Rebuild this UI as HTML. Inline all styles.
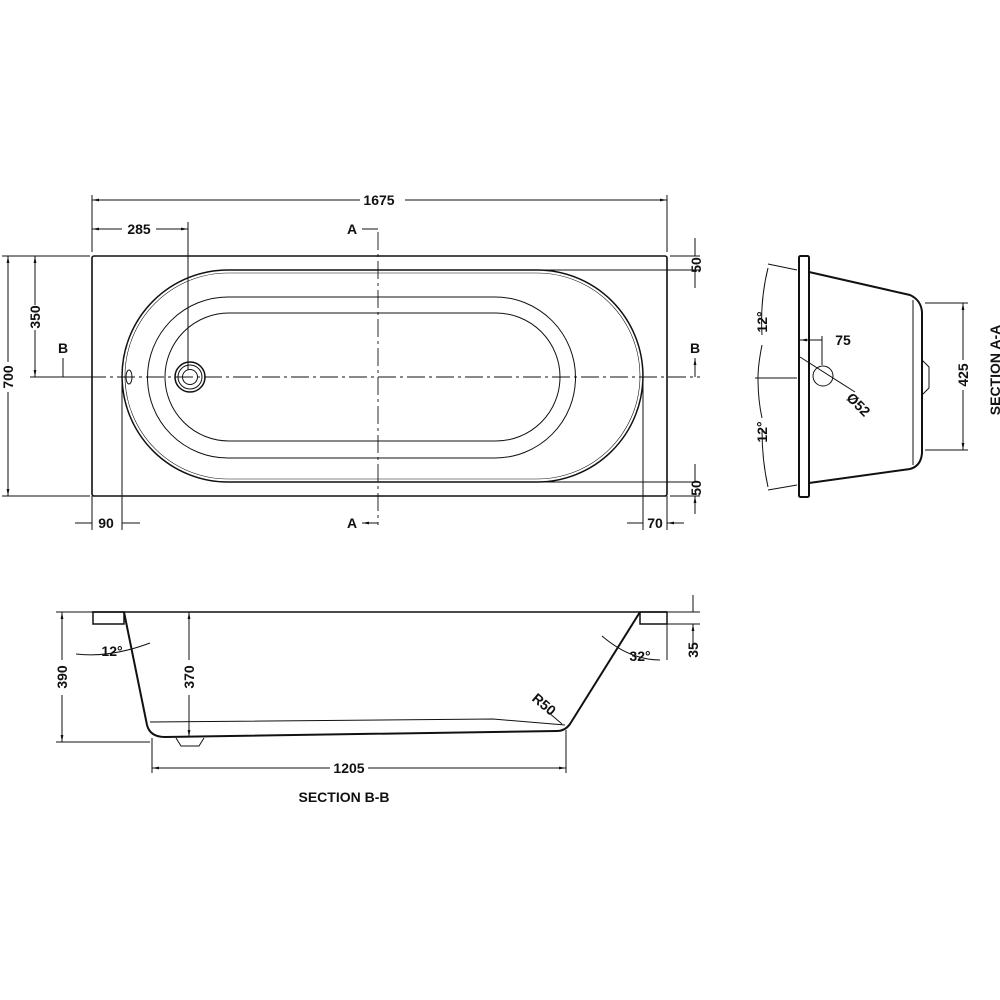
<!DOCTYPE html>
<html><head><style>body{margin:0;background:#fff}svg{display:block}text{font-family:"Liberation Sans",sans-serif;font-weight:bold;font-size:14px;fill:#111}</style></head><body>
<svg width="1000" height="1000" viewBox="0 0 1000 1000" xmlns="http://www.w3.org/2000/svg">
<defs><marker id="a" viewBox="0 0 10 10" refX="10" refY="5" markerWidth="7" markerHeight="7" orient="auto-start-reverse"><path d="M0,3L10,5L0,7z" fill="#111"/></marker></defs>
<g stroke="#111" fill="none" stroke-width="1">
<!-- top view -->
<rect x="92" y="256" width="575" height="240" rx="2" stroke-width="1.6"/>
<path d="M228,270H537A106,106 0 0 1 537,482H228A106,106 0 0 1 228,270Z" stroke-width="1.5"/>
<path d="M228,273H537A103,103 0 0 1 537,479H228A103,103 0 0 1 228,273Z" stroke-width="0.6"/>
<path d="M228,297H495A80.5,80.5 0 0 1 495,458H228A80.5,80.5 0 0 1 228,297Z"/>
<path d="M229,313H496A64,64 0 0 1 496,441H229A64,64 0 0 1 229,313Z"/>
<circle cx="190" cy="377" r="15" stroke-width="1.5"/><circle cx="190" cy="377" r="12"/><circle cx="190" cy="377" r="7.5"/>
<ellipse cx="129" cy="377" rx="3" ry="7"/>
<path d="M30,377H700" stroke-dasharray="18,4,3,4" stroke-width="0.9"/>
<path d="M378,232V525" stroke-dasharray="18,4,3,4" stroke-width="0.9"/>
<path d="M63,377V358M695,377V358" marker-end="url(#a)"/>
<path d="M378,229H362M378,523H362" marker-end="url(#a)"/>
<path d="M92,195V252M667,195V252"/>
<path d="M92,200H360M405,200H667" marker-start="url(#a)" marker-end="url(#a)"/>
<path d="M188,222V370"/>
<path d="M92,229H122M156,229H188" marker-start="url(#a)" marker-end="url(#a)"/>
<path d="M2,256H90M2,496H90M30,377H90"/>
<path d="M8,256V362M8,392V496" marker-start="url(#a)"/>
<path d="M8,362V256M8,392V496" marker-end="url(#a)"/>
<path d="M35,256V305M35,330V377" marker-start="url(#a)"/>
<path d="M35,305V256M35,330V377" marker-end="url(#a)"/>
<path d="M122,377V530M643,377V530M92,496V530M667,496V530"/>
<path d="M75,523H92M140,523H122M627,523H643M684,523H667" marker-end="url(#a)"/>
<path d="M670,256H700M537,270H700M537,482H700M670,496H700"/>
<path d="M695,238V256M695,288V270M695,464V482M695,514V496" marker-end="url(#a)"/>
<!-- section A-A -->
<rect x="799" y="256" width="10" height="241" rx="1.5" stroke-width="2"/>
<path d="M809,272L910,295Q921,300 922,312V453Q921,466 910,469L809,483" stroke-width="2"/>
<path d="M913,300V465"/>
<path d="M922,360L929,367V388L922,395"/>
<path d="M925,303H968M925,450H968"/>
<path d="M963,303V360M963,390V450" marker-start="url(#a)"/>
<path d="M963,360V303M963,390V450" marker-end="url(#a)"/>
<path d="M797,270L768,264M797,485L768,490M755,378H797"/>
<path d="M768,268Q760,300 762,335M762,345Q758,365 758,378M758,378Q758,400 762,418M762,430Q762,460 768,487" />
<circle cx="823" cy="376" r="10"/>
<path d="M800,340H822M822,336V365"/>
<path d="M800,357L855,392"/>
<path d="M810,340H800" marker-end="url(#a)"/>
<!-- section B-B -->
<path d="M92,612H667" stroke-width="1.6"/>
<rect x="93" y="612" width="31" height="12" stroke-width="1.5"/>
<rect x="640" y="612" width="27" height="12" stroke-width="1.5"/>
<path d="M124,612L147,725Q150,737 165,737L557,731Q565,731 570,724L640,612" stroke-width="2"/>
<path d="M150,722L493,719L565,725"/>
<path d="M176,738L181,746H199L204,738"/>
<path d="M56,612H92M56,742H150"/>
<path d="M62,612V660M62,695V742" marker-start="url(#a)"/>
<path d="M62,660V612M62,695V742" marker-end="url(#a)"/>
<path d="M189,612V660M189,695V737" marker-start="url(#a)"/>
<path d="M189,660V612M189,695V737" marker-end="url(#a)"/>
<path d="M152,738V773M566,730V773"/>
<path d="M152,768H330M368,768H566" marker-start="url(#a)" marker-end="url(#a)"/>
<path d="M667,612H700M667,624H700M667,624V660"/>
<path d="M693,595V612M693,640V624" marker-end="url(#a)"/>
<path d="M693,648V640"/>
<path d="M76,654Q110,658 150,643"/>
<path d="M602,636Q630,660 660,660"/>
<path d="M548,712L562,724"/>
</g>
<text x="379" y="205" text-anchor="middle">1675</text>
<text x="139" y="234" text-anchor="middle">285</text>
<text x="352" y="234" text-anchor="middle">A</text>
<text x="352" y="528" text-anchor="middle">A</text>
<text x="63" y="353" text-anchor="middle">B</text>
<text x="695" y="353" text-anchor="middle">B</text>
<text x="106" y="528" text-anchor="middle">90</text>
<text x="655" y="528" text-anchor="middle">70</text>
<text transform="translate(13,377) rotate(-90)" text-anchor="middle">700</text>
<text transform="translate(40,317) rotate(-90)" text-anchor="middle">350</text>
<text transform="translate(701,265) rotate(-90)" text-anchor="middle">50</text>
<text transform="translate(701,488) rotate(-90)" text-anchor="middle">50</text>
<text transform="translate(968,375) rotate(-90)" text-anchor="middle">425</text>
<text transform="translate(1000,370) rotate(-90)" text-anchor="middle">SECTION A-A</text>
<text transform="translate(767,322) rotate(-90)" text-anchor="middle">12°</text>
<text transform="translate(767,432) rotate(-90)" text-anchor="middle">12°</text>
<text x="843" y="345" text-anchor="middle">75</text>
<text transform="translate(855,408) rotate(45)" text-anchor="middle">Ø52</text>
<text transform="translate(67,677) rotate(-90)" text-anchor="middle">390</text>
<text transform="translate(194,677) rotate(-90)" text-anchor="middle">370</text>
<text transform="translate(698,650) rotate(-90)" text-anchor="middle">35</text>
<text x="112" y="656" text-anchor="middle">12°</text>
<text x="640" y="661" text-anchor="middle">32°</text>
<text transform="translate(541,708) rotate(40)" text-anchor="middle">R50</text>
<text x="349" y="773" text-anchor="middle">1205</text>
<text x="344" y="802" text-anchor="middle">SECTION B-B</text>
</svg>
</body></html>
